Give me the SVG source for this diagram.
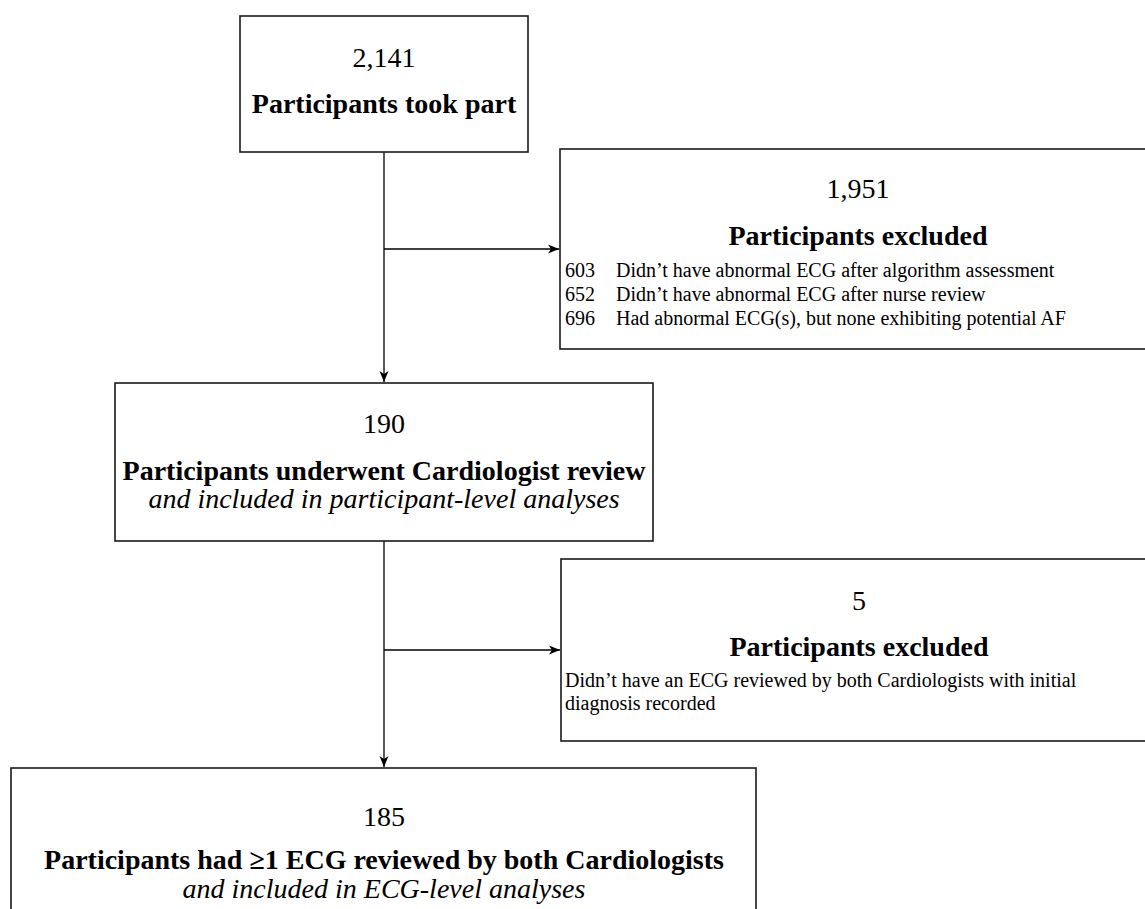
<svg xmlns="http://www.w3.org/2000/svg" width="1145" height="909" viewBox="0 0 1145 909">
<style>
.box{fill:#fff;stroke:#1a1a1a;stroke-width:1.6}
.t{font-family:"Liberation Serif","Times New Roman",serif;fill:#000}
.num{font-size:28px;text-anchor:middle}
.hd{font-size:28px;font-weight:bold;text-anchor:middle}
.it{font-size:28px;font-style:italic;text-anchor:middle}
.sm{font-size:20px}
.ln{stroke:#000;stroke-width:1.3;fill:none}
</style>
<defs>
<marker id="ah" markerUnits="userSpaceOnUse" markerWidth="12" markerHeight="10" refX="11" refY="5" orient="auto">
<path d="M0,0.5 L11,5 L0,9.5 L3,5 z" fill="#000"/>
</marker>
</defs>
<rect width="1145" height="909" fill="#fff"/>
<g id="connectors">
<line class="ln" x1="384" y1="152" x2="384" y2="382" marker-end="url(#ah)"/>
<line class="ln" x1="384" y1="249" x2="559" y2="249" marker-end="url(#ah)"/>
<line class="ln" x1="384" y1="541" x2="384" y2="767" marker-end="url(#ah)"/>
<line class="ln" x1="384" y1="650" x2="560" y2="650" marker-end="url(#ah)"/>
</g>
<g id="node-took-part">
<rect class="box" x="240" y="16" width="288" height="136"/>
<text class="t num" x="384" y="67">2,141</text>
<text class="t hd" x="384" y="113">Participants took part</text>
</g>
<g id="node-excluded-1">
<rect class="box" x="560" y="149" width="600" height="200"/>
<text class="t num" x="858" y="198">1,951</text>
<text class="t hd" x="858" y="245">Participants excluded</text>
<text class="t sm" x="565" y="277">603</text>
<text class="t sm" x="616" y="277">Didn’t have abnormal ECG after algorithm assessment</text>
<text class="t sm" x="565" y="301">652</text>
<text class="t sm" x="616" y="301">Didn’t have abnormal ECG after nurse review</text>
<text class="t sm" x="565" y="325">696</text>
<text class="t sm" x="616" y="325">Had abnormal ECG(s), but none exhibiting potential AF</text>
</g>
<g id="node-cardiologist-review">
<rect class="box" x="115" y="383" width="538" height="158"/>
<text class="t num" x="384" y="433">190</text>
<text class="t hd" x="384" y="480">Participants underwent Cardiologist review</text>
<text class="t it" x="384" y="508">and included in participant-level analyses</text>
</g>
<g id="node-excluded-2">
<rect class="box" x="561" y="559" width="600" height="182"/>
<text class="t num" x="859" y="610">5</text>
<text class="t hd" x="859" y="656">Participants excluded</text>
<text class="t sm" x="565" y="687">Didn’t have an ECG reviewed by both Cardiologists with initial</text>
<text class="t sm" x="565" y="710">diagnosis recorded</text>
</g>
<g id="node-ecg-level">
<rect class="box" x="11" y="768" width="745" height="160"/>
<text class="t num" x="384" y="826">185</text>
<text class="t hd" x="384" y="869">Participants had ≥1 ECG reviewed by both Cardiologists</text>
<text class="t it" x="384" y="898">and included in ECG-level analyses</text>
</g>
</svg>
